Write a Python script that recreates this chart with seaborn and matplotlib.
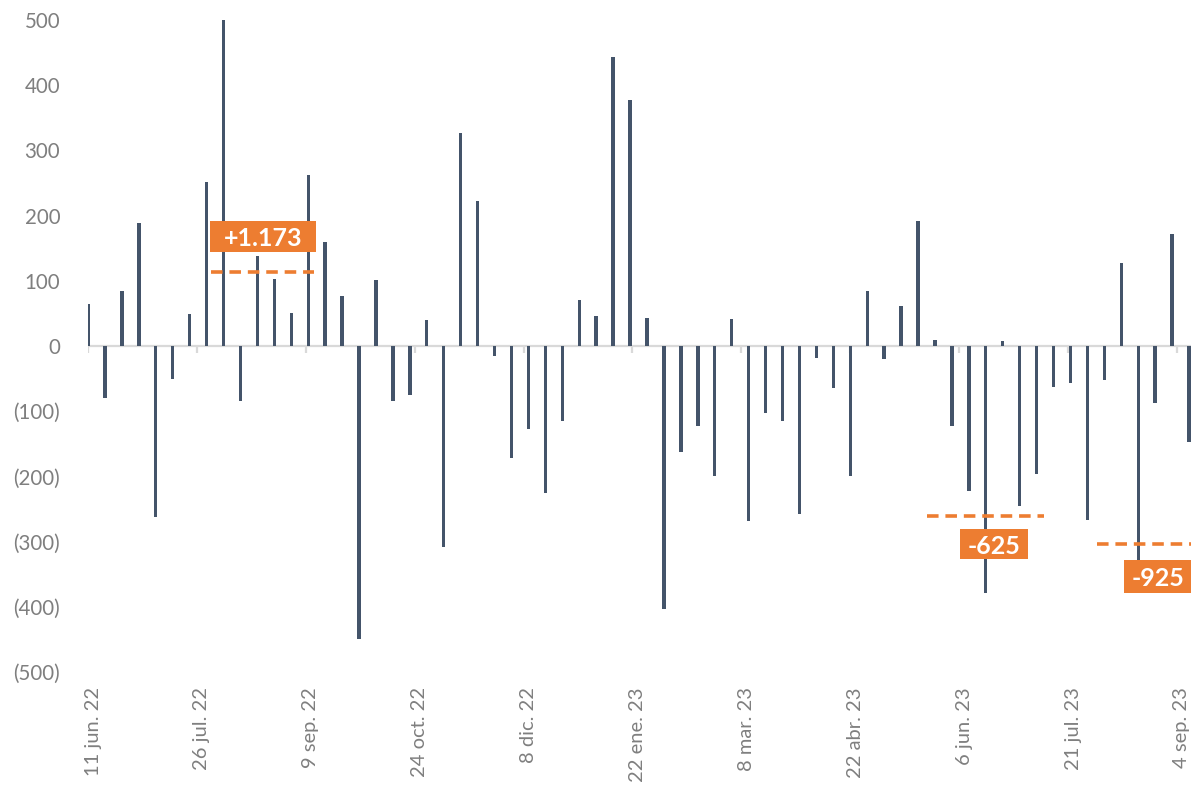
import matplotlib
matplotlib.use("Agg")
import matplotlib.pyplot as plt
import matplotlib.dates as mdates
import matplotlib.transforms as mtransforms
from matplotlib.patches import Rectangle
import pandas as pd
import seaborn as sns

# weekly values
start_date = "2022-06-11"
net_flows = [65, -80, 85, 188, -262, -51, 49, 251, 500, -84, 138, 103, 50, 262,
             160, 77, -450, 101, -84, -75, 40, -308, 326, 222, -15, -172, -127,
             -225, -115, 71, 46, 443, 377, 43, -403, -163, -122, -199, 41, -268,
             -102, -115, -257, -19, -65, -200, 84, -20, 61, 191, 9, -122, -222,
             -379, 7, -246, -196, -63, -56, -267, -52, 128, -330, -87, 172, -147]

tick_dates = ["2022-06-11", "2022-07-26", "2022-09-09", "2022-10-24", "2022-12-08",
              "2023-01-22", "2023-03-08", "2023-04-22", "2023-06-06", "2023-07-21",
              "2023-09-04"]
tick_labels = ["11 jun. 22", "26 jul. 22", "9 sep. 22", "24 oct. 22", "8 dic. 22",
               "22 ene. 23", "8 mar. 23", "22 abr. 23", "6 jun. 23", "21 jul. 23",
               "4 sep. 23"]

# orange call-outs (offsets in days from start_date)
ann_text = ["+1.173", "-625", "-925"]
ann_line_from = [51, 346.5, 417]
ann_line_to = [93.5, 395, 457]
ann_line_y = [113, -261, -304]
ann_box_x = [72.3, 374.4, 442]
ann_box_y = [168, -304, -354]
ann_box_w = [43.8, 28.1, 28.1]
ann_box_h = [48, 46, 51]

BAR = "#44546A"
ORANGE = "#ED7D31"
GRAY = "#7F7F7F"
LIGHT = "#D9D9D9"

sns.set_theme(style="white")
plt.rcParams["font.family"] = ["Lato", "DejaVu Sans"]

t0 = pd.Timestamp(start_date)
weeks = pd.date_range(start_date, periods=len(net_flows), freq="7D")
df = pd.DataFrame({"x": mdates.date2num(weeks), "value": net_flows})
x0 = mdates.date2num(t0)

fig = plt.figure(figsize=(11.91, 7.88), dpi=100)
ax = fig.add_axes([88 / 1191, 116 / 788, 1103 / 1191, 652 / 788])

ax.axhline(0, color=LIGHT, lw=1.6, zorder=1)
tick_x = mdates.date2num(pd.to_datetime(tick_dates))
ax.vlines(tick_x, -11, 0, color=LIGHT, lw=1.6, zorder=1)

sns.barplot(data=df, x="x", y="value", native_scale=True, width=0.2,
            color=BAR, saturation=1, linewidth=0, ax=ax, zorder=2)

for txt, a, b, ly, bx, by, bw, bh in zip(ann_text, ann_line_from, ann_line_to, ann_line_y,
                                         ann_box_x, ann_box_y, ann_box_w, ann_box_h):
    ax.plot([x0 + a, x0 + b], [ly, ly], color=ORANGE, lw=2.6, dashes=(3.2, 1.9),
            solid_capstyle="butt", dash_capstyle="butt", zorder=4, clip_on=False)
    ax.add_patch(Rectangle((x0 + bx - bw / 2, by - bh / 2), bw, bh,
                           facecolor=ORANGE, edgecolor="none", zorder=5, clip_on=False))
    ax.text(x0 + bx, by, txt, color="white", fontsize=18, fontweight="bold",
            ha="center", va="center_baseline", zorder=6)

ax.set_xlim(x0, x0 + 455.8)
ax.set_ylim(-500, 500)

ax.set_xticks(tick_x)
ax.set_xticklabels(tick_labels, rotation=90)
yt = list(range(-500, 501, 100))
ax.set_yticks(yt)
ax.set_yticklabels([f"({abs(v)})" if v < 0 else str(v) for v in yt])
ax.tick_params(axis="x", length=0, pad=11, labelsize=14.5, labelcolor=GRAY)
ax.tick_params(axis="y", length=0, pad=20, labelsize=14.8, labelcolor=GRAY)
shift = mtransforms.ScaledTranslation(5 / 100, 0, fig.dpi_scale_trans)
for lab in ax.get_xticklabels():
    lab.set_transform(lab.get_transform() + shift)
ax.set_xlabel("")
ax.set_ylabel("")
for s in ax.spines.values():
    s.set_visible(False)

fig.savefig("out.png", dpi=100)
